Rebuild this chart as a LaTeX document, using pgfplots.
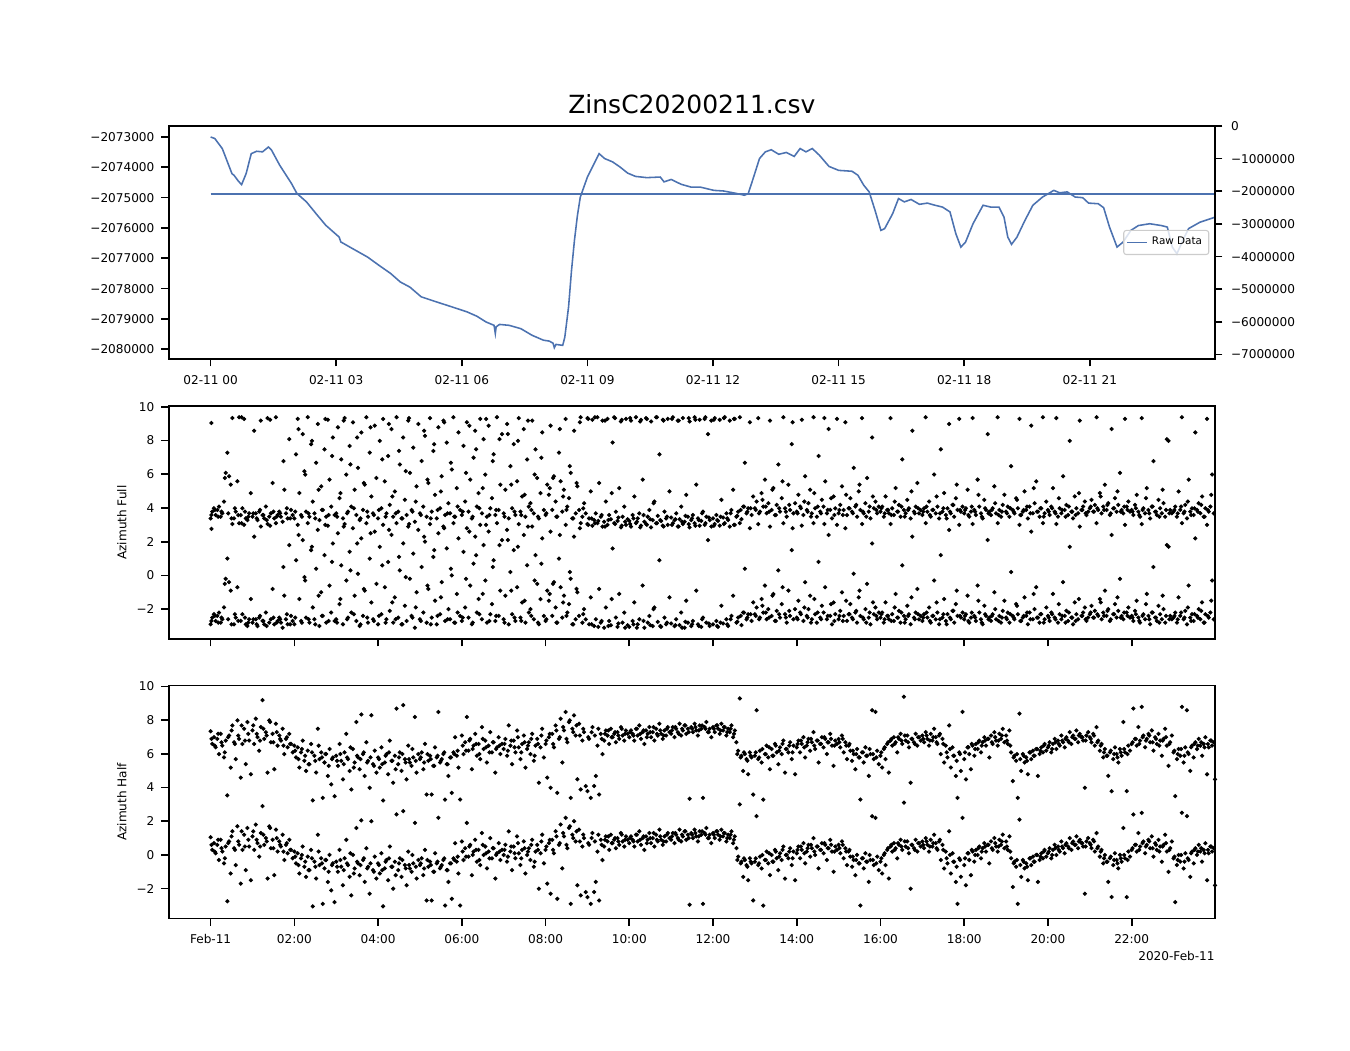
\documentclass[border=0pt]{standalone}
\usepackage{fontspec}
\setmainfont{DejaVu Sans}
\usepackage{pgfplots}
\usepackage{pgfplotstable}
\pgfplotsset{compat=1.18}
\definecolor{mplblue}{RGB}{76,114,176}
\definecolor{legframe}{RGB}{204,204,204}

\pgfplotstableread[row sep=\\]{
x y\\
0.00 -2.9\\0.02 2.76\\0.04 -2.5\\0.08 -2.3\\0.12 -2.7\\0.16 -2.4\\0.20 -2.2\\0.24 -2.8\\0.28 -2.6\\0.32 -1.9\\0.36 -0.2\\0.40 1.0\\0.44 -0.4\\0.48 -0.9\\0.52 3.05\\0.56 -2.9\\0.60 -2.5\\0.64 -0.7\\0.68 3.1\\0.72 -2.7\\0.76 -2.3\\0.80 3.0\\0.84 -2.9\\0.88 -3.0\\0.92 -2.6\\0.96 -1.4\\
1.00 -2.8\\1.04 2.3\\1.08 -2.6\\1.12 -3.0\\1.16 -2.5\\1.20 2.9\\1.24 -2.7\\1.28 -2.9\\1.32 -2.2\\1.36 3.05\\1.40 -2.8\\1.44 -2.6\\1.48 -0.8\\1.52 -2.9\\1.56 3.1\\1.60 -2.7\\1.64 -2.5\\1.68 -2.8\\1.72 -3.1\\1.76 -1.2\\1.80 -2.6\\1.84 -2.9\\1.88 1.8\\1.92 -2.4\\1.96 -2.7\\
2.00 -2.9\\2.04 0.9\\2.08 3.0\\2.12 -1.4\\2.16 -2.7\\2.20 2.1\\2.24 -0.1\\2.28 -2.5\\2.32 3.1\\2.36 -2.8\\2.40 1.5\\2.44 -1.9\\2.48 -2.6\\2.52 0.4\\2.56 2.7\\2.60 -3.0\\2.64 -1.0\\2.68 -2.4\\2.72 1.2\\2.76 -2.8\\2.80 2.95\\2.84 -0.6\\2.88 -2.2\\2.92 1.9\\2.96 -2.7\\
3.00 -2.6\\3.04 2.5\\3.08 -1.7\\3.12 0.6\\3.16 -2.9\\3.20 3.05\\3.24 -0.3\\3.28 -2.5\\3.32 1.4\\3.36 -2.2\\3.40 2.8\\3.44 -1.2\\3.48 -2.7\\3.52 0.1\\3.56 -3.0\\3.60 2.2\\3.64 -2.4\\3.68 -0.9\\3.72 3.1\\3.76 -2.8\\3.80 1.0\\3.84 -1.6\\3.88 -2.6\\3.92 2.6\\3.96 -0.5\\
4.00 -2.9\\4.04 1.7\\4.08 -2.3\\4.12 3.0\\4.16 -0.7\\4.20 -2.6\\4.24 0.8\\4.28 -2.1\\4.32 2.4\\4.36 -2.8\\4.40 -1.3\\4.44 3.1\\4.48 -2.5\\4.52 0.3\\4.56 -2.9\\4.60 1.9\\4.64 -1.8\\4.68 -2.7\\4.72 2.9\\4.76 -0.2\\4.80 -2.4\\4.84 1.3\\4.88 -3.1\\4.92 -1.0\\4.96 2.7\\
5.00 -2.6\\5.04 0.5\\5.08 -2.2\\5.12 2.0\\5.16 -2.8\\5.20 -0.8\\5.24 3.05\\5.28 -2.5\\5.32 1.1\\5.36 -1.5\\5.40 -2.9\\5.44 2.5\\5.48 -2.3\\5.52 -0.4\\5.56 2.9\\5.60 -2.7\\5.64 1.6\\5.68 -2.0\\5.72 -2.6\\5.76 0.0\\5.80 3.1\\5.84 -2.8\\5.88 -1.1\\5.92 2.2\\5.96 -2.4\\
6.00 -2.7\\6.04 1.4\\6.08 -1.9\\6.12 2.8\\6.16 -2.5\\6.20 -0.6\\6.24 -2.9\\6.28 0.7\\6.32 2.3\\6.36 -2.2\\6.40 -1.4\\6.44 3.0\\6.48 -2.6\\6.52 1.8\\6.56 -0.3\\6.60 -2.8\\6.64 2.6\\6.68 -2.3\\6.72 -1.7\\6.76 0.9\\6.80 -2.7\\6.84 3.1\\6.88 -2.4\\6.92 -0.9\\6.96 2.1\\
7.00 -2.6\\7.04 -1.2\\7.08 2.7\\7.12 -2.9\\7.16 0.2\\7.20 -2.3\\7.24 1.5\\7.28 -2.7\\7.32 -0.7\\7.36 3.05\\7.40 -2.5\\7.44 -1.6\\7.48 2.4\\7.52 -2.8\\7.56 0.6\\7.60 -2.2\\7.64 -2.0\\7.68 2.9\\7.72 -2.6\\7.76 1.2\\7.80 -0.5\\7.84 -2.9\\7.88 -1.4\\7.92 2.2\\7.96 -2.4\\
8.00 -2.7\\8.04 -0.9\\8.08 -1.5\\8.12 2.6\\8.16 -2.4\\8.20 -0.4\\8.24 -1.9\\8.28 -2.8\\8.32 1.0\\8.36 -0.7\\8.40 -2.5\\8.44 -1.2\\8.48 3.0\\8.52 -2.2\\8.56 -1.7\\8.60 -0.2\\8.64 -2.9\\8.68 2.3\\8.72 -2.6\\8.76 -1.0\\8.80 -2.4\\8.84 3.1\\8.88 -2.8\\8.92 -2.0\\8.96 -2.6\\
9.00 3.05\\9.04 -2.9\\9.08 -1.3\\9.12 2.95\\9.16 -3.0\\9.20 -2.6\\9.24 3.1\\9.28 -0.8\\9.32 -2.8\\9.36 2.9\\9.40 -3.1\\9.44 -1.9\\9.48 3.0\\9.52 -2.7\\9.56 -2.95\\9.60 1.6\\9.64 3.1\\9.68 -2.5\\9.72 -3.05\\9.76 -1.1\\9.80 2.85\\9.84 -2.8\\9.88 -2.2\\9.92 3.0\\9.96 -2.95\\
10.00 -3.05\\10.04 2.9\\10.08 -2.7\\10.12 -1.6\\10.16 3.1\\10.20 -2.9\\10.24 -2.6\\10.28 2.95\\10.32 -0.6\\10.36 -3.1\\10.40 3.05\\10.44 -2.8\\10.48 -2.4\\10.52 2.85\\10.56 -3.0\\10.60 -1.9\\10.64 3.1\\10.68 -2.75\\10.72 0.9\\10.76 -3.05\\10.80 2.95\\10.84 -2.5\\10.88 -2.9\\10.92 3.0\\10.96 -1.3\\
11.00 -2.85\\11.04 3.1\\11.08 -3.0\\11.12 -2.6\\11.16 2.9\\11.20 -2.95\\11.24 -2.2\\11.28 3.05\\11.32 -3.1\\11.36 -1.5\\11.40 -2.8\\11.44 2.85\\11.48 -3.0\\11.52 -2.7\\11.56 3.1\\11.60 -0.9\\11.64 -2.9\\11.68 2.95\\11.72 -3.05\\11.76 -2.5\\11.80 3.0\\11.84 -2.8\\11.88 2.1\\11.92 -3.0\\11.96 2.9\\
12.00 -2.9\\12.04 3.05\\12.08 -2.7\\12.12 -3.05\\12.16 2.95\\12.20 -1.8\\12.24 -2.85\\12.28 3.1\\12.32 -2.6\\12.36 -3.0\\12.40 2.9\\12.44 -2.4\\12.48 -1.2\\12.52 3.0\\12.56 -2.8\\12.60 -2.5\\12.64 3.1\\12.68 -2.95\\12.72 -2.2\\12.76 0.4\\12.80 -2.6\\12.84 -2.3\\12.88 2.8\\12.92 -2.7\\12.96 -1.6\\
13.00 -2.3\\13.04 -1.9\\13.08 3.05\\13.12 -2.5\\13.16 -1.4\\13.20 -2.2\\13.24 -0.6\\13.28 -2.6\\13.32 -2.0\\13.36 2.9\\13.40 -2.4\\13.44 -1.1\\13.48 -2.7\\13.52 -2.1\\13.56 0.3\\13.60 -2.5\\13.64 -1.7\\13.68 3.1\\13.72 -2.3\\13.76 -2.8\\13.80 -0.9\\13.84 -2.4\\13.88 1.5\\13.92 -2.6\\13.96 -2.0\\
14.00 -2.5\\14.04 -1.5\\14.08 -2.2\\14.12 2.95\\14.16 -2.7\\14.20 -0.4\\14.24 -2.4\\14.28 -2.0\\14.32 -1.2\\14.36 -2.6\\14.40 3.1\\14.44 -2.3\\14.48 -2.8\\14.52 0.8\\14.56 -2.5\\14.60 -1.8\\14.64 -2.2\\14.68 -0.7\\14.72 -2.6\\14.76 2.4\\14.80 -2.4\\14.84 -2.9\\14.88 -1.6\\14.92 -2.3\\14.96 3.0\\
15.00 -2.6\\15.04 -2.1\\15.08 -1.0\\15.12 -2.4\\15.16 2.8\\15.20 -2.7\\15.24 -2.3\\15.28 -1.7\\15.32 -2.5\\15.36 0.1\\15.40 -2.2\\15.44 -2.8\\15.48 -1.3\\15.52 -2.4\\15.56 3.05\\15.60 -2.6\\15.64 -2.0\\15.68 -0.5\\15.72 -2.5\\15.76 -2.9\\15.80 1.9\\15.84 -2.3\\15.88 -1.9\\15.92 -2.6\\15.96 -2.2\\
16.00 -2.5\\16.04 -2.2\\16.08 -2.8\\16.12 -1.6\\16.16 -2.4\\16.20 -2.6\\16.24 3.05\\16.28 -2.3\\16.32 -2.7\\16.36 -1.1\\16.40 -2.5\\16.44 -2.1\\16.48 -2.8\\16.52 0.6\\16.56 -2.4\\16.60 -2.6\\16.64 -1.8\\16.68 -2.3\\16.72 -2.9\\16.76 2.3\\16.80 -2.5\\16.84 -2.2\\16.88 -0.8\\16.92 -2.6\\16.96 -2.4\\
17.00 -2.7\\17.04 -2.3\\17.08 3.1\\17.12 -2.5\\17.16 -1.9\\17.20 -2.8\\17.24 -2.4\\17.28 -0.3\\17.32 -2.6\\17.36 -2.2\\17.40 -2.9\\17.44 1.2\\17.48 -2.5\\17.52 -1.4\\17.56 -2.7\\17.60 -2.3\\17.64 2.7\\17.68 -2.6\\17.72 -2.1\\17.76 -2.8\\17.80 -1.7\\17.84 -2.4\\17.88 3.0\\17.92 -2.5\\17.96 -2.2\\
18.00 -2.6\\18.04 -2.3\\18.08 -1.2\\18.12 -2.8\\18.16 -2.5\\18.20 3.05\\18.24 -2.4\\18.28 -2.7\\18.32 -0.6\\18.36 -2.2\\18.40 -2.6\\18.44 -2.9\\18.48 -1.8\\18.52 -2.4\\18.56 2.1\\18.60 -2.5\\18.64 -2.7\\18.68 -2.3\\18.72 -1.0\\18.76 -2.6\\18.80 3.1\\18.84 -2.4\\18.88 -2.8\\18.92 -2.1\\18.96 -1.5\\
19.00 -2.5\\19.04 -2.2\\19.08 -2.8\\19.12 0.2\\19.16 -2.4\\19.20 -2.6\\19.24 -1.7\\19.28 -2.3\\19.32 3.0\\19.36 -2.7\\19.40 -2.5\\19.44 -1.3\\19.48 -2.4\\19.52 -2.9\\19.56 -2.2\\19.60 2.6\\19.64 -2.6\\19.68 -2.0\\19.72 -0.7\\19.76 -2.5\\19.80 -2.8\\19.84 -2.3\\19.88 3.1\\19.92 -2.6\\19.96 -1.9\\
20.00 -2.4\\20.04 -2.7\\20.08 -2.2\\20.12 -1.1\\20.16 -2.5\\20.20 3.05\\20.24 -2.8\\20.28 -2.3\\20.32 -2.6\\20.36 -0.4\\20.40 -2.4\\20.44 -2.1\\20.48 -2.7\\20.52 1.7\\20.56 -2.5\\20.60 -2.9\\20.64 -1.6\\20.68 -2.3\\20.72 -2.6\\20.76 2.9\\20.80 -2.4\\20.84 -2.2\\20.88 -1.9\\20.92 -2.7\\20.96 -2.5\\
21.00 -2.3\\21.04 -1.8\\21.08 -2.5\\21.12 -2.1\\21.16 3.1\\21.20 -2.4\\21.24 -1.4\\21.28 -2.6\\21.32 -2.2\\21.36 -0.9\\21.40 -2.4\\21.44 -2.0\\21.48 -2.7\\21.52 2.4\\21.56 -2.3\\21.60 -1.7\\21.64 -2.5\\21.68 -2.1\\21.72 -0.2\\21.76 -2.4\\21.80 -2.6\\21.84 3.0\\21.88 -2.2\\21.92 -1.9\\21.96 -2.5\\
22.00 -2.4\\22.04 -2.7\\22.08 -2.1\\22.12 -1.5\\22.16 -2.5\\22.20 -2.8\\22.24 3.05\\22.28 -2.3\\22.32 -2.6\\22.36 -1.1\\22.40 -2.4\\22.44 -2.9\\22.48 -2.2\\22.52 0.5\\22.56 -2.5\\22.60 -2.7\\22.64 -1.8\\22.68 -2.3\\22.72 -2.6\\22.76 -2.0\\22.80 -2.8\\22.84 1.8\\22.88 1.7\\22.92 -2.4\\22.96 -2.6\\
23.00 -2.5\\23.04 -2.2\\23.08 -2.8\\23.12 -1.3\\23.16 -2.4\\23.20 3.1\\23.24 -2.6\\23.28 -2.1\\23.32 -2.9\\23.36 -0.6\\23.40 -2.5\\23.44 -2.3\\23.48 -2.7\\23.52 2.2\\23.56 -2.4\\23.60 -2.0\\23.64 -2.6\\23.68 -1.6\\23.72 -2.8\\23.76 -2.3\\23.80 3.0\\23.84 -2.5\\23.88 -2.2\\23.92 -0.3\\23.96 -2.6\\
}\fullA

\pgfplotstableread[row sep=\\]{
x y\\
0.02 -2.7\\0.10 -2.4\\0.18 -2.8\\0.26 -2.5\\0.34 -0.5\\0.42 -2.6\\0.50 -2.9\\0.58 -2.3\\0.66 -2.7\\0.74 3.1\\0.82 -2.5\\0.90 -2.8\\
1.02 -2.6\\1.10 -2.9\\1.18 -2.4\\1.26 -2.7\\1.34 -3.0\\1.42 2.95\\1.50 -2.5\\1.58 -2.8\\1.66 -2.6\\1.74 0.5\\1.82 -2.3\\1.90 -2.9\\
2.02 -2.5\\2.10 2.4\\2.18 -2.8\\2.26 -0.3\\2.34 -2.6\\2.42 1.7\\2.50 -2.9\\2.58 -1.2\\2.66 -2.4\\2.74 3.0\\2.82 -2.7\\2.90 0.8\\
3.02 -2.8\\3.10 -1.4\\3.18 2.9\\3.26 -2.6\\3.34 0.3\\3.42 -2.3\\3.50 1.9\\3.58 -2.9\\3.66 -0.8\\3.74 -2.5\\3.82 2.5\\3.90 -2.7\\
4.02 -2.4\\4.10 0.6\\4.18 -2.8\\4.26 2.7\\4.34 -1.6\\4.42 -2.6\\4.50 1.1\\4.58 -2.9\\4.66 -0.1\\4.74 3.05\\4.82 -2.5\\4.90 -1.9\\
5.02 -2.7\\5.10 2.3\\5.18 -0.6\\5.26 -2.9\\5.34 1.5\\5.42 -2.4\\5.50 -1.3\\5.58 2.8\\5.66 -2.6\\5.74 0.4\\5.82 -2.8\\5.90 -2.2\\
6.02 -2.5\\6.10 -0.2\\6.18 2.6\\6.26 -2.8\\6.34 1.2\\6.42 -2.3\\6.50 -1.1\\6.58 3.0\\6.66 -2.7\\6.74 0.5\\6.82 -2.4\\6.90 1.8\\
7.02 -2.8\\7.10 2.1\\7.18 -0.9\\7.26 -2.5\\7.34 1.7\\7.42 -2.7\\7.50 -1.5\\7.58 2.9\\7.66 -2.4\\7.74 -0.3\\7.82 -2.8\\7.90 0.7\\
8.02 -2.6\\8.10 -1.1\\8.18 -0.5\\8.26 -2.8\\8.34 2.4\\8.42 -1.6\\8.50 -2.4\\8.58 0.2\\8.66 -2.9\\8.74 -0.8\\8.82 2.8\\8.90 -2.3\\
9.02 3.0\\9.10 -2.9\\9.18 3.1\\9.26 -3.05\\9.34 -2.7\\9.42 2.9\\9.50 -3.0\\9.58 -1.4\\9.66 3.05\\9.74 -2.85\\9.82 2.95\\9.90 -3.1\\
10.02 3.05\\10.10 -2.9\\10.18 -3.1\\10.26 2.85\\10.34 -2.7\\10.42 3.0\\10.50 -2.95\\10.58 -2.0\\10.66 3.1\\10.74 -3.0\\10.82 2.9\\10.90 -2.8\\
11.02 3.0\\11.10 -2.95\\11.18 2.9\\11.26 -3.1\\11.34 -2.75\\11.42 3.05\\11.50 -2.9\\11.58 2.95\\11.66 -3.0\\11.74 -2.6\\11.82 3.1\\11.90 -2.85\\
12.02 2.95\\12.10 -3.0\\12.18 -2.8\\12.26 3.05\\12.34 -2.9\\12.42 -2.6\\12.50 3.0\\12.58 -2.75\\12.66 -2.4\\12.74 -2.2\\12.82 -2.5\\12.90 -2.3\\
13.02 -2.4\\13.10 -2.6\\13.18 -1.8\\13.26 -2.2\\13.34 -2.5\\13.42 -1.2\\13.50 -2.7\\13.58 -2.3\\13.66 -0.7\\13.74 -2.5\\13.82 -2.1\\13.90 2.8\\
14.02 -2.6\\14.10 -2.3\\14.18 -1.9\\14.26 -2.5\\14.34 -2.8\\14.42 -1.4\\14.50 -2.2\\14.58 -2.6\\14.66 3.05\\14.74 -2.4\\14.82 -1.7\\14.90 -2.7\\
15.02 -2.4\\15.10 -2.7\\15.18 -1.5\\15.26 -2.3\\15.34 -2.6\\15.42 -2.1\\15.50 -0.9\\15.58 -2.5\\15.66 -2.8\\15.74 -2.2\\15.82 -1.6\\15.90 -2.4\\
16.02 -2.3\\16.10 -2.6\\16.18 -2.4\\16.26 -2.7\\16.34 -1.9\\16.42 -2.5\\16.50 -2.2\\16.58 -2.8\\16.66 -2.4\\16.74 -1.3\\16.82 -2.6\\16.90 -2.3\\
17.02 -2.5\\17.10 -2.2\\17.18 -2.7\\17.26 -2.4\\17.34 -1.6\\17.42 -2.6\\17.50 -2.3\\17.58 -2.9\\17.66 -2.5\\17.74 -2.1\\17.82 -0.9\\17.90 -2.4\\
18.02 -2.4\\18.10 -2.7\\18.18 -2.2\\18.26 -2.5\\18.34 -1.5\\18.42 -2.8\\18.50 -2.3\\18.58 -2.6\\18.66 -2.4\\18.74 -2.0\\18.82 -2.7\\18.90 -2.5\\
19.02 -2.6\\19.10 -2.3\\19.18 -2.5\\19.26 -1.8\\19.34 -2.7\\19.42 -2.4\\19.50 -2.2\\19.58 -2.6\\19.66 -1.1\\19.74 -2.5\\19.82 -2.3\\19.90 -2.8\\
20.02 -2.5\\20.10 -2.3\\20.18 -2.6\\20.26 -1.7\\20.34 -2.4\\20.42 -2.8\\20.50 -2.2\\20.58 -2.5\\20.66 -2.7\\20.74 -1.4\\20.82 -2.4\\20.90 -2.6\\
21.02 -2.2\\21.10 -2.5\\21.18 -2.3\\21.26 -1.6\\21.34 -2.4\\21.42 -2.1\\21.50 -2.6\\21.58 -2.3\\21.66 -1.3\\21.74 -2.5\\21.82 -2.2\\21.90 -2.4\\
22.02 -2.5\\22.10 -2.3\\22.18 -2.7\\22.26 -2.4\\22.34 -1.7\\22.42 -2.6\\22.50 -2.2\\22.58 -2.5\\22.66 -2.8\\22.74 -1.2\\22.82 -2.4\\22.90 -2.6\\
23.02 -2.4\\23.10 -2.6\\23.18 -2.2\\23.26 -2.5\\23.34 -1.9\\23.42 -2.7\\23.50 -2.3\\23.58 -2.5\\23.66 -2.1\\23.74 -2.8\\23.82 -2.4\\23.90 -1.5\\
}\fullB

\pgfplotstableread[row sep=\\]{
x y\\
0.00 1.05\\0.04 0.3\\0.08 0.7\\0.12 0.1\\0.16 0.6\\0.20 -0.3\\0.24 0.9\\0.28 0.2\\0.32 -0.5\\0.36 0.5\\0.40 -2.75\\0.44 0.8\\0.48 -1.1\\0.52 1.4\\0.56 0.4\\0.60 -0.6\\0.64 1.7\\0.68 0.6\\0.72 -1.7\\0.76 0.3\\0.80 1.2\\0.84 -0.9\\0.88 1.6\\0.92 0.5\\0.96 -1.5\\
1.00 1.1\\1.04 0.3\\1.08 1.8\\1.12 0.7\\1.16 -0.1\\1.20 1.3\\1.24 2.9\\1.28 0.6\\1.32 1.0\\1.36 -1.4\\1.40 1.7\\1.44 0.4\\1.48 0.9\\1.52 -1.2\\1.56 1.5\\1.60 0.2\\1.64 0.8\\1.68 0.5\\1.72 1.2\\1.76 -0.3\\1.80 0.6\\1.84 0.1\\1.88 0.9\\1.92 0.3\\1.96 -0.2\\
2.00 0.2\\2.04 -0.5\\2.08 0.1\\2.12 -1.1\\2.16 -0.2\\2.20 0.5\\2.24 -0.7\\2.28 -1.3\\2.32 -0.1\\2.36 -0.9\\2.40 0.3\\2.44 -3.05\\2.48 -0.4\\2.52 -1.4\\2.56 1.2\\2.60 -0.6\\2.64 -0.2\\2.68 -2.9\\2.72 -0.8\\2.76 -0.3\\2.80 -1.6\\2.84 0.0\\2.88 -2.1\\2.92 -0.5\\2.96 -2.8\\
3.00 -0.4\\3.04 -1.0\\3.08 0.3\\3.12 -0.7\\3.16 -1.8\\3.20 -0.2\\3.24 0.9\\3.28 -0.6\\3.32 -1.3\\3.36 -2.4\\3.40 0.0\\3.44 -0.8\\3.48 1.6\\3.52 -0.5\\3.56 -1.2\\3.60 2.05\\3.64 -0.3\\3.68 -1.6\\3.72 0.4\\3.76 -0.7\\3.80 -2.3\\3.84 2.0\\3.88 -0.9\\3.92 -0.1\\3.96 -1.4\\
4.00 -0.5\\4.04 -1.1\\4.08 0.1\\4.12 -3.05\\4.16 -0.8\\4.20 -0.3\\4.24 -1.5\\4.28 0.5\\4.32 -0.7\\4.36 -2.0\\4.40 -0.4\\4.44 2.4\\4.48 -0.9\\4.52 -0.2\\4.56 -1.3\\4.60 2.6\\4.64 -0.6\\4.68 -1.8\\4.72 0.2\\4.76 -0.8\\4.80 -1.0\\4.84 -0.5\\4.88 1.9\\4.92 -1.4\\4.96 -0.3\\
5.00 -0.6\\5.04 -0.2\\5.08 -1.2\\5.12 0.3\\5.16 -2.7\\5.20 -0.7\\5.24 -0.4\\5.28 -2.7\\5.32 -1.0\\5.36 0.1\\5.40 -0.5\\5.44 2.2\\5.48 -0.8\\5.52 -0.6\\5.56 -0.3\\5.60 -3.0\\5.64 -0.9\\5.68 -1.6\\5.72 -0.5\\5.76 -2.6\\5.80 -0.2\\5.84 0.7\\5.88 -0.4\\5.92 -1.1\\5.96 -3.0\\
6.00 0.8\\6.04 -0.3\\6.08 0.4\\6.12 1.9\\6.16 -0.1\\6.20 0.6\\6.24 -1.2\\6.28 0.2\\6.32 0.9\\6.36 -0.4\\6.40 0.3\\6.44 -0.6\\6.48 1.3\\6.52 0.0\\6.56 0.5\\6.60 -0.8\\6.64 0.2\\6.68 1.0\\6.72 -0.2\\6.76 0.4\\6.80 -1.4\\6.84 0.1\\6.88 0.7\\6.92 -0.3\\6.96 0.3\\
7.00 0.0\\7.04 0.6\\7.08 -0.4\\7.12 1.4\\7.16 0.2\\7.20 -0.9\\7.24 0.5\\7.28 -0.2\\7.32 1.1\\7.36 0.1\\7.40 -0.6\\7.44 0.3\\7.48 0.8\\7.52 -1.1\\7.56 0.0\\7.60 0.4\\7.64 -0.3\\7.68 0.9\\7.72 -0.7\\7.76 0.2\\7.80 0.6\\7.84 -2.0\\7.88 0.1\\7.92 1.2\\7.96 -0.5\\
8.00 0.3\\8.04 -1.7\\8.08 0.7\\8.12 -2.3\\8.16 0.9\\8.20 0.1\\8.24 1.4\\8.28 -2.6\\8.32 0.6\\8.36 1.8\\8.40 -0.8\\8.44 1.1\\8.48 2.2\\8.52 0.4\\8.56 1.6\\8.60 -2.9\\8.64 1.2\\8.68 2.0\\8.72 0.8\\8.76 -1.8\\8.80 1.5\\8.84 -2.4\\8.88 0.5\\8.92 1.0\\8.96 -2.2\\
9.00 -2.5\\9.04 0.6\\9.08 -2.9\\9.12 1.3\\9.16 -2.2\\9.20 -1.6\\9.24 0.2\\9.28 -2.7\\9.32 0.9\\9.36 -0.3\\9.40 0.5\\9.44 1.1\\9.48 0.8\\9.52 0.3\\9.56 1.2\\9.60 0.7\\9.64 0.9\\9.68 0.4\\9.72 1.0\\9.76 0.6\\9.80 1.3\\9.84 0.8\\9.88 0.5\\9.92 1.1\\9.96 0.9\\
10.00 0.7\\10.04 1.1\\10.08 0.9\\10.12 0.5\\10.16 1.2\\10.20 0.8\\10.24 1.4\\10.28 0.6\\10.32 1.0\\10.36 0.3\\10.40 1.1\\10.44 0.9\\10.48 1.3\\10.52 0.7\\10.56 1.0\\10.60 0.5\\10.64 1.2\\10.68 0.8\\10.72 1.5\\10.76 0.9\\10.80 0.6\\10.84 1.1\\10.88 0.8\\10.92 1.3\\10.96 1.0\\
11.00 0.9\\11.04 1.3\\11.08 0.7\\11.12 1.2\\11.16 1.0\\11.20 1.5\\11.24 0.8\\11.28 1.1\\11.32 1.4\\11.36 0.9\\11.40 1.2\\11.44 -2.95\\11.48 1.3\\11.52 1.0\\11.56 1.5\\11.60 1.1\\11.64 0.8\\11.68 1.4\\11.72 1.2\\11.76 -2.9\\11.80 1.3\\11.84 1.6\\11.88 1.0\\11.92 1.2\\11.96 0.7\\
12.00 1.3\\12.04 1.0\\12.08 1.4\\12.12 1.2\\12.16 0.9\\12.20 1.5\\12.24 1.1\\12.28 1.3\\12.32 0.8\\12.36 1.2\\12.40 1.0\\12.44 1.4\\12.48 0.7\\12.52 1.1\\12.56 0.4\\12.60 -0.1\\12.64 3.0\\12.68 -0.4\\12.72 -1.3\\12.76 -0.3\\12.80 -0.6\\12.84 -1.5\\12.88 -0.2\\12.92 -0.5\\12.96 -2.7\\
13.00 -0.4\\13.04 2.3\\13.08 -0.6\\13.12 -0.1\\13.16 -0.8\\13.20 -3.0\\13.24 -0.3\\13.28 0.2\\13.32 -0.5\\13.36 -1.2\\13.40 0.0\\13.44 -0.4\\13.48 0.3\\13.52 -0.2\\13.56 -0.9\\13.60 0.1\\13.64 -0.3\\13.68 0.5\\13.72 -1.4\\13.76 0.0\\13.80 -0.2\\13.84 0.4\\13.88 -0.6\\13.92 0.2\\13.96 -1.5\\
14.00 0.1\\14.04 0.5\\14.08 -0.2\\14.12 0.3\\14.16 0.7\\14.20 -0.5\\14.24 0.2\\14.28 0.6\\14.32 -0.1\\14.36 0.4\\14.40 1.0\\14.44 0.0\\14.48 0.5\\14.52 -0.8\\14.56 0.3\\14.60 0.7\\14.64 0.1\\14.68 0.6\\14.72 -0.3\\14.76 0.4\\14.80 0.9\\14.84 0.2\\14.88 -1.0\\14.92 0.5\\14.96 0.3\\
15.00 0.6\\15.04 0.1\\15.08 0.8\\15.12 -0.2\\15.16 0.4\\15.20 -0.6\\15.24 0.2\\15.28 -0.1\\15.32 -0.7\\15.36 -0.3\\15.40 -1.2\\15.44 0.0\\15.48 -0.5\\15.52 -3.0\\15.56 -0.2\\15.60 -0.8\\15.64 0.1\\15.68 -0.4\\15.72 -1.6\\15.76 -0.3\\15.80 2.3\\15.84 -0.6\\15.88 2.2\\15.92 -0.1\\15.96 -0.9\\
16.00 -0.4\\16.04 -1.1\\16.08 0.0\\16.12 -0.6\\16.16 0.3\\16.20 -1.4\\16.24 0.5\\16.28 0.2\\16.32 0.7\\16.36 0.4\\16.40 -0.2\\16.44 0.6\\16.48 0.9\\16.52 0.3\\16.56 3.1\\16.60 0.5\\16.64 0.8\\16.68 0.1\\16.72 -2.0\\16.76 0.6\\16.80 0.4\\16.84 0.9\\16.88 0.2\\16.92 0.7\\16.96 0.5\\
17.00 0.8\\17.04 0.4\\17.08 1.0\\17.12 0.6\\17.16 0.2\\17.20 0.9\\17.24 0.5\\17.28 1.2\\17.32 0.7\\17.36 0.3\\17.40 0.8\\17.44 -0.3\\17.48 0.6\\17.52 -0.8\\17.56 0.2\\17.60 -0.5\\17.64 1.4\\17.68 -1.1\\17.72 0.1\\17.76 -0.4\\17.80 -1.6\\17.84 -2.9\\17.88 -0.2\\17.92 -1.3\\17.96 2.2\\
18.00 -0.6\\18.04 -1.8\\18.08 0.1\\18.12 -0.3\\18.16 -1.2\\18.20 0.2\\18.24 -0.4\\18.28 0.3\\18.32 0.0\\18.36 0.5\\18.40 -0.2\\18.44 0.4\\18.48 0.7\\18.52 0.2\\18.56 0.6\\18.60 -0.5\\18.64 0.8\\18.68 0.3\\18.72 1.0\\18.76 0.5\\18.80 0.2\\18.84 0.9\\18.88 0.6\\18.92 1.2\\18.96 0.4\\
19.00 0.8\\19.04 0.3\\19.08 1.1\\19.12 -0.2\\19.16 -1.9\\19.20 -0.4\\19.24 -0.7\\19.28 -2.9\\19.32 2.1\\19.36 -1.3\\19.40 -0.3\\19.44 -0.8\\19.48 -0.5\\19.52 -1.5\\19.56 -0.2\\19.60 -0.6\\19.64 -0.1\\19.68 -0.4\\19.72 0.0\\19.76 -1.6\\19.80 -0.3\\19.84 0.1\\19.88 -0.2\\19.92 0.3\\19.96 -0.1\\
20.00 0.1\\20.04 0.4\\20.08 -0.2\\20.12 0.3\\20.16 0.6\\20.20 0.0\\20.24 0.5\\20.28 0.2\\20.32 0.8\\20.36 0.4\\20.40 0.1\\20.44 0.7\\20.48 0.5\\20.52 1.0\\20.56 0.3\\20.60 0.8\\20.64 0.6\\20.68 1.1\\20.72 0.4\\20.76 0.9\\20.80 0.7\\20.84 0.5\\20.88 -2.3\\20.92 0.8\\20.96 1.0\\
21.00 0.7\\21.04 0.4\\21.08 0.9\\21.12 0.2\\21.16 1.3\\21.20 0.5\\21.24 -0.1\\21.28 0.3\\21.32 -0.5\\21.36 0.0\\21.40 -0.4\\21.44 -1.6\\21.48 -0.2\\21.52 -2.5\\21.56 -0.6\\21.60 0.1\\21.64 -0.3\\21.68 -0.8\\21.72 0.0\\21.76 -0.4\\21.80 1.6\\21.84 -0.2\\21.88 -2.5\\21.92 0.2\\21.96 -0.1\\
22.00 0.3\\22.04 2.4\\22.08 0.6\\22.12 0.2\\22.16 1.3\\22.20 0.5\\22.24 2.5\\22.28 0.8\\22.32 0.1\\22.36 0.6\\22.40 0.9\\22.44 0.4\\22.48 1.1\\22.52 -0.1\\22.56 0.7\\22.60 0.3\\22.64 0.9\\22.68 0.5\\22.72 -0.4\\22.76 0.6\\22.80 1.2\\22.84 0.2\\22.88 -1.0\\22.92 0.4\\22.96 0.8\\
23.00 -0.2\\23.04 -2.8\\23.08 -0.6\\23.12 0.0\\23.16 -0.4\\23.20 2.5\\23.24 -0.8\\23.28 0.1\\23.32 2.3\\23.36 -0.3\\23.40 -1.3\\23.44 0.2\\23.48 -0.5\\23.52 0.4\\23.56 0.0\\23.60 0.6\\23.64 0.2\\23.68 -0.4\\23.72 0.3\\23.76 0.7\\23.80 -1.5\\23.84 0.1\\23.88 0.5\\23.92 0.2\\23.96 0.4\\23.99 -1.8\\
}\halfA

\pgfplotstableread[row sep=\\]{
x y\\
0.02 0.6\\0.10 0.2\\0.18 0.9\\0.26 0.4\\0.34 -0.2\\0.42 0.7\\0.50 1.1\\0.58 0.3\\0.66 0.8\\0.74 1.4\\0.82 0.5\\0.90 0.9\\
1.02 1.4\\1.10 0.9\\1.18 0.5\\1.26 1.2\\1.34 0.8\\1.42 1.6\\1.50 0.4\\1.58 1.0\\1.66 0.6\\1.74 0.2\\1.82 0.7\\1.90 0.3\\
2.02 -0.1\\2.10 -0.6\\2.18 0.0\\2.26 -0.4\\2.34 -0.9\\2.42 -0.2\\2.50 -0.7\\2.58 0.2\\2.66 -0.5\\2.74 -0.3\\2.82 -1.0\\2.90 -0.6\\
3.02 -0.7\\3.10 -0.3\\3.18 -0.9\\3.26 -0.5\\3.34 0.1\\3.42 -1.1\\3.50 -0.4\\3.58 -0.6\\3.66 -0.2\\3.74 -0.8\\3.82 -0.5\\3.90 -1.0\\
4.02 -0.6\\4.10 -0.9\\4.18 -0.4\\4.26 -0.2\\4.34 -0.7\\4.42 -1.2\\4.50 -0.5\\4.58 -0.3\\4.66 -0.8\\4.74 -0.6\\4.82 0.0\\4.90 -0.7\\
5.02 -0.5\\5.10 -0.8\\5.18 -0.3\\5.26 -0.6\\5.34 -1.0\\5.42 -0.4\\5.50 -0.7\\5.58 -0.2\\5.66 -0.9\\5.74 -0.5\\5.82 -0.3\\5.90 -0.1\\
6.02 0.2\\6.10 -0.1\\6.18 0.5\\6.26 0.0\\6.34 0.3\\6.42 -0.3\\6.50 0.6\\6.58 0.1\\6.66 -0.2\\6.74 0.4\\6.82 0.0\\6.90 0.2\\
7.02 0.3\\7.10 -0.1\\7.18 0.5\\7.26 0.1\\7.34 0.7\\7.42 -0.2\\7.50 0.4\\7.58 0.2\\7.66 0.6\\7.74 -0.4\\7.82 0.3\\7.90 0.8\\
8.02 0.5\\8.10 0.9\\8.18 0.3\\8.26 1.1\\8.34 0.7\\8.42 1.3\\8.50 0.6\\8.58 1.7\\8.66 1.0\\8.74 1.4\\8.82 0.8\\8.90 1.2\\
9.02 0.7\\9.10 1.0\\9.18 0.8\\9.26 1.2\\9.34 0.6\\9.42 0.9\\9.50 1.1\\9.58 0.7\\9.66 1.0\\9.74 0.8\\9.82 1.2\\9.90 0.9\\
10.02 1.0\\10.10 0.8\\10.18 1.2\\10.26 0.9\\10.34 1.1\\10.42 0.7\\10.50 1.0\\10.58 1.3\\10.66 0.9\\10.74 1.1\\10.82 0.8\\10.90 1.2\\
11.02 1.1\\11.10 1.3\\11.18 0.9\\11.26 1.2\\11.34 1.4\\11.42 1.0\\11.50 1.2\\11.58 1.3\\11.66 1.1\\11.74 1.4\\11.82 1.2\\11.90 1.0\\
12.02 1.2\\12.10 1.4\\12.18 1.1\\12.26 1.3\\12.34 1.0\\12.42 1.2\\12.50 0.9\\12.58 -0.3\\12.66 -0.5\\12.74 -0.2\\12.82 -0.7\\12.90 -0.4\\
13.02 -0.2\\13.10 -0.5\\13.18 0.0\\13.26 -0.3\\13.34 0.1\\13.42 -0.4\\13.50 0.2\\13.58 -0.1\\13.66 0.3\\13.74 0.0\\13.82 0.2\\13.90 -0.2\\
14.02 0.3\\14.10 0.5\\14.18 0.1\\14.26 0.4\\14.34 0.6\\14.42 0.2\\14.50 0.5\\14.58 0.3\\14.66 0.7\\14.74 0.4\\14.82 0.6\\14.90 0.2\\
15.02 0.4\\15.10 0.6\\15.18 0.2\\15.26 0.3\\15.34 -0.1\\15.42 -0.3\\15.50 -0.5\\15.58 -0.2\\15.66 -0.4\\15.74 0.0\\15.82 -0.3\\15.90 -0.5\\
16.02 -0.2\\16.10 0.1\\16.18 0.4\\16.26 0.6\\16.34 0.3\\16.42 0.7\\16.50 0.5\\16.58 0.8\\16.66 0.4\\16.74 0.6\\16.82 0.3\\16.90 0.7\\
17.02 0.6\\17.10 0.8\\17.18 0.5\\17.26 0.7\\17.34 0.4\\17.42 0.9\\17.50 0.3\\17.58 -0.2\\17.66 0.0\\17.74 -0.4\\17.82 -0.7\\17.90 -0.3\\
18.02 -0.2\\18.10 0.1\\18.18 0.3\\18.26 0.0\\18.34 0.4\\18.42 0.2\\18.50 0.5\\18.58 0.6\\18.66 0.4\\18.74 0.7\\18.82 0.5\\18.90 0.8\\
19.02 0.5\\19.10 0.2\\19.18 -0.5\\19.26 -0.3\\19.34 -0.6\\19.42 -0.4\\19.50 -0.7\\19.58 -0.2\\19.66 -0.4\\19.74 0.0\\19.82 -0.1\\19.90 0.2\\
20.02 0.2\\20.10 0.0\\20.18 0.4\\20.26 0.3\\20.34 0.5\\20.42 0.6\\20.50 0.4\\20.58 0.7\\20.66 0.6\\20.74 0.8\\20.82 0.7\\20.90 0.5\\
21.02 0.6\\21.10 0.8\\21.18 0.4\\21.26 0.2\\21.34 -0.2\\21.42 -0.4\\21.50 -0.1\\21.58 -0.3\\21.66 -0.5\\21.74 -0.2\\21.82 0.0\\21.90 -0.3\\
22.02 0.4\\22.10 0.6\\22.18 0.3\\22.26 0.7\\22.34 0.5\\22.42 0.8\\22.50 0.4\\22.58 0.6\\22.66 0.2\\22.74 0.5\\22.82 0.7\\22.90 0.3\\
23.02 -0.1\\23.10 -0.3\\23.18 0.0\\23.26 -0.4\\23.34 -0.2\\23.42 0.1\\23.50 0.3\\23.58 0.2\\23.66 0.4\\23.74 0.1\\23.82 0.3\\23.90 0.5\\
}\halfB

\pgfplotsset{
  mpl/.style={
    scale only axis, width=502.2pt, height=111.84pt, anchor=south west,
    xmin=-1.0, xmax=23.99,
    axis line style={line width=0.8pt, black},
    every tick/.style={line width=0.8pt, black},
    major tick length=3.5pt, tick align=outside,
    minor tick num=0,
    tick label style={font=\fontsize{5.8}{7}\selectfont},
    xticklabel style={inner sep=0pt, anchor=north, yshift=-4.1pt},
    xtick pos=left, ytick pos=left,
    scaled ticks=false,
  },
  scat/.style={only marks, mark=*, mark size=0.8pt, black},
}

\begin{document}
\begin{tikzpicture}
\useasboundingbox (0,0) rectangle (648pt,504pt);

% ---------- top panel ----------
\begin{axis}[mpl, at={(81pt,331.68pt)},
  yticklabel style={inner sep=0pt, anchor=east, xshift=-3.2pt},
  ymin=-2080320, ymax=-2072637,
  xtick={0,3,6,9,12,15,18,21},
  xticklabels={02-11 00,02-11 03,02-11 06,02-11 09,02-11 12,02-11 15,02-11 18,02-11 21},
  ytick={-2080000,-2079000,-2078000,-2077000,-2076000,-2075000,-2074000,-2073000},
  yticklabels={−2080000,−2079000,−2078000,−2077000,−2076000,−2075000,−2074000,−2073000},
  legend style={at={(0.9945,0.5)}, anchor=east, font=\fontsize{5}{6}\selectfont,
    draw=legframe, fill=white, fill opacity=0.8, text opacity=1,
    rounded corners=1.2pt, line width=0.5pt, inner sep=1.2pt},
  legend image code/.code={\draw[#1] (0pt,0pt) -- (9.6pt,0pt);},
  legend cell align=left,
]
\addplot[mplblue, line width=0.75pt, forget plot] coordinates {(0,-2074880)(24,-2074880)};
\addplot[mplblue, line width=0.75pt] coordinates {
(0,-2073000)(0.1,-2073050)(0.28,-2073385)(0.51,-2074210)(0.56,-2074264)(0.66,-2074450)(0.74,-2074571)(0.85,-2074200)(0.97,-2073550)(1.1,-2073470)(1.24,-2073490)(1.38,-2073330)(1.45,-2073420)(1.65,-2073930)(1.93,-2074530)(2.06,-2074860)(2.29,-2075140)(2.52,-2075530)(2.75,-2075910)(3.07,-2076300)(3.11,-2076460)(3.39,-2076680)(3.75,-2076960)(4.02,-2077230)(4.3,-2077500)(4.53,-2077780)(4.76,-2077950)(5.03,-2078270)(5.4,-2078440)(5.76,-2078600)(6.13,-2078770)(6.36,-2078910)(6.58,-2079100)(6.77,-2079210)(6.8,-2079480)(6.82,-2079260)(6.9,-2079180)(7.13,-2079210)(7.41,-2079320)(7.68,-2079540)(7.95,-2079700)(8.09,-2079730)(8.18,-2079800)(8.21,-2079950)(8.25,-2079840)(8.41,-2079870)(8.46,-2079600)(8.55,-2078600)(8.62,-2077400)(8.69,-2076410)(8.76,-2075600)(8.83,-2074980)(9.0,-2074320)(9.14,-2073930)(9.28,-2073550)(9.41,-2073710)(9.6,-2073820)(9.78,-2073990)(9.96,-2074190)(10.15,-2074300)(10.42,-2074340)(10.74,-2074320)(10.83,-2074480)(11.0,-2074400)(11.24,-2074560)(11.47,-2074650)(11.69,-2074650)(12.02,-2074760)(12.25,-2074780)(12.52,-2074850)(12.75,-2074920)(12.84,-2074870)(12.97,-2074320)(13.11,-2073710)(13.25,-2073490)(13.39,-2073420)(13.57,-2073570)(13.75,-2073510)(13.94,-2073640)(14.08,-2073380)(14.22,-2073490)(14.37,-2073380)(14.54,-2073600)(14.77,-2073970)(15.0,-2074100)(15.32,-2074130)(15.46,-2074260)(15.6,-2074590)(15.73,-2074810)(15.87,-2075420)(16.01,-2076080)(16.1,-2076020)(16.29,-2075530)(16.43,-2075030)(16.57,-2075140)(16.73,-2075060)(16.93,-2075220)(17.12,-2075180)(17.3,-2075250)(17.48,-2075310)(17.66,-2075470)(17.8,-2076190)(17.92,-2076630)(18.03,-2076470)(18.21,-2075860)(18.45,-2075250)(18.63,-2075310)(18.83,-2075310)(18.95,-2075640)(19.04,-2076300)(19.13,-2076540)(19.26,-2076300)(19.45,-2075750)(19.64,-2075250)(19.87,-2074980)(20.14,-2074760)(20.28,-2074840)(20.46,-2074810)(20.65,-2074980)(20.83,-2075000)(20.97,-2075180)(21.2,-2075200)(21.33,-2075330)(21.47,-2075970)(21.65,-2076630)(21.79,-2076470)(21.98,-2076080)(22.16,-2075920)(22.43,-2075860)(22.71,-2075920)(22.85,-2075970)(22.97,-2076630)(23.08,-2076850)(23.22,-2076410)(23.36,-2076020)(23.63,-2075810)(24.0,-2075640)
};
\addlegendentry{Raw Data}
\end{axis}

\begin{axis}[mpl, at={(81pt,331.68pt)},
  hide x axis, axis y line*=right, ytick pos=right,
  ymin=-7135000, ymax=0,
  ytick={-7000000,-6000000,-5000000,-4000000,-3000000,-2000000,-1000000,0},
  yticklabels={−7000000,−6000000,−5000000,−4000000,−3000000,−2000000,−1000000,0},
  yticklabel style={inner sep=0pt, anchor=west, xshift=4pt},
]
\addplot[draw=none] coordinates {(0,-1000000)};
\end{axis}

% ---------- middle panel ----------
\begin{axis}[mpl, at={(81pt,197.28pt)},
  yticklabel style={inner sep=0pt, anchor=east, xshift=-3.2pt},
  ymin=-3.77, ymax=10.05,
  xtick={0,2,4,6,8,10,12,14,16,18,20,22}, xticklabels={},
  ytick={-2,0,2,4,6,8,10}, yticklabels={−2,0,2,4,6,8,10},
]
\addplot[scat] table[x=x, y=y] {\fullA};
\addplot[scat] table[x=x, y expr=\thisrow{y}+6.2832] {\fullA};
\addplot[scat] table[x=x, y=y] {\fullB};
\addplot[scat] table[x=x, y expr=\thisrow{y}+6.2832] {\fullB};
\end{axis}

% ---------- bottom panel ----------
\begin{axis}[mpl, at={(81pt,63.12pt)},
  yticklabel style={inner sep=0pt, anchor=east, xshift=-3.2pt},
  ymin=-3.77, ymax=10.05,
  xtick={0,2,4,6,8,10,12,14,16,18,20,22},
  xticklabels={Feb-11,02:00,04:00,06:00,08:00,10:00,12:00,14:00,16:00,18:00,20:00,22:00},
  ytick={-2,0,2,4,6,8,10}, yticklabels={−2,0,2,4,6,8,10},
]
\addplot[scat] table[x=x, y=y] {\halfA};
\addplot[scat] table[x=x, y expr=\thisrow{y}+6.2832] {\halfA};
\addplot[scat] table[x=x, y=y] {\halfB};
\addplot[scat] table[x=x, y expr=\thisrow{y}+6.2832] {\halfB};
\end{axis}

\node[anchor=base, font=\fontsize{12}{14}\selectfont] at (332.1pt,449.5pt) {ZinsC20200211.csv};
\node[rotate=90, anchor=base, inner sep=0pt, font=\fontsize{5.8}{7}\selectfont] at (60.7pt,253.2pt) {Azimuth Full};
\node[rotate=90, anchor=base, inner sep=0pt, font=\fontsize{5.8}{7}\selectfont] at (60.7pt,119.0pt) {Azimuth Half};
\node[anchor=base east, inner sep=0pt, font=\fontsize{5.8}{7}\selectfont] at (583.2pt,43.2pt) {2020-Feb-11};
\end{tikzpicture}
\end{document}
